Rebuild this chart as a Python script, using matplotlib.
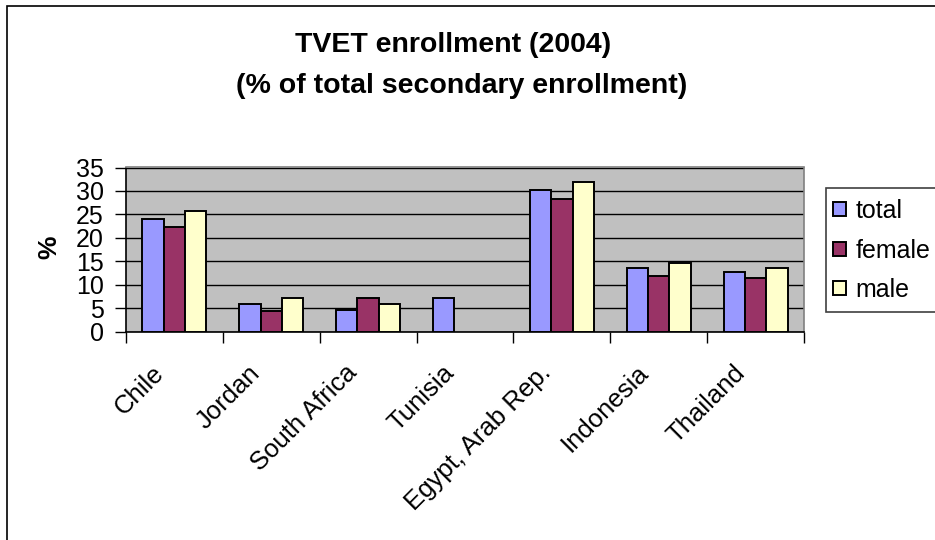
import numpy as np
import matplotlib
matplotlib.use("Agg")
import matplotlib.pyplot as plt
import matplotlib.transforms as mtransforms
from matplotlib.patches import Rectangle

plt.rcParams['font.family'] = ['Liberation Sans', 'DejaVu Sans']

countries = ['Chile', 'Jordan', 'South Africa', 'Tunisia',
             'Egypt, Arab Rep.', 'Indonesia', 'Thailand']
total = [24.0, 5.9, 4.6, 7.2, 30.3, 13.5, 12.6]
female = [22.3, 4.3, 7.2, np.nan, 28.2, 11.9, 11.4]
male = [25.7, 7.2, 5.9, np.nan, 32.0, 14.7, 13.5]
series_names = ['total', 'female', 'male']
series_colors = ['#9999FF', '#993366', '#FFFFCC']

W, H = 935, 540
fig = plt.figure(figsize=(W / 100, H / 100), dpi=100)

def px(x0, y0, x1, y1):
    # pixel box (top-left origin) -> figure fraction [l, b, w, h]
    return [x0 / W, 1 - y1 / H, (x1 - x0) / W, (y1 - y0) / H]

# outer chart border (runs off the right/bottom edge like the original)
fig.patches.append(Rectangle((7 / W, -0.05), 1.1, 1 - 6 / H + 0.05,
                             transform=fig.transFigure, fill=False,
                             edgecolor='black', linewidth=1.2))

ax = fig.add_axes(px(126, 167.5, 804, 331.5))
ax.set_facecolor('#C0C0C0')

x = np.arange(len(countries))
w = 0.22
for i, (vals, name, col) in enumerate(zip([total, female, male], series_names, series_colors)):
    ax.bar(x + (i - 1) * w, vals, w, color=col, edgecolor='black',
           linewidth=1.4, label=name, zorder=3)

ax.set_xlim(-0.5, len(countries) - 0.5)
ax.set_ylim(0, 35)
ax.set_yticks(np.arange(0, 36, 5))
ax.yaxis.grid(True, color='black', linewidth=1.0, zorder=1)
ax.set_axisbelow(True)

ax.set_xticks(x)
ax.set_xticklabels(countries, rotation=45, ha='right', rotation_mode='anchor')
ax.set_xticks(np.arange(-0.5, len(countries)), minor=True)
ax.tick_params(axis='x', which='major', length=0, pad=21, labelsize=18.5)
ax.tick_params(axis='x', which='minor', length=8, width=1, color='black')
ax.tick_params(axis='y', length=8, width=1, labelsize=18, pad=8)

# shift category labels left so their ends sit just left of the group centre
shift = mtransforms.ScaledTranslation(-23 / 100, 0, fig.dpi_scale_trans)
for lab in ax.get_xticklabels():
    lab.set_transform(lab.get_transform() + shift)

for side in ['top', 'right']:
    ax.spines[side].set_color('#808080')
    ax.spines[side].set_linewidth(1.2)
for side in ['left', 'bottom']:
    ax.spines[side].set_color('black')
    ax.spines[side].set_linewidth(1.2)

fig.text(49.5 / W, 1 - 247 / H, '%', rotation=90, fontsize=19, fontweight='bold',
         ha='center', va='center')

fig.text(453.5 / W, 1 - 45 / H, 'TVET enrollment (2004)', fontsize=20.5,
         fontweight='bold', ha='center', va='center')
fig.text(462 / W, 1 - 86 / H, '(% of total secondary enrollment)', fontsize=20.5,
         fontweight='bold', ha='center', va='center')

# legend box, also running off the right edge
fig.patches.append(Rectangle((826 / W, 1 - 311.5 / H), 0.2, 124 / H,
                             transform=fig.transFigure, facecolor='white',
                             edgecolor='#404040', linewidth=1.2))
handles, labels = ax.get_legend_handles_labels()
fig.legend(handles, labels, loc='upper left',
           bbox_to_anchor=(828 / W, 1 - 194 / H), frameon=False,
           fontsize=18, handlelength=0.5, handleheight=0.5,
           handletextpad=0.4, labelspacing=0.62, borderaxespad=0,
           borderpad=0.2)

fig.savefig('out.png', dpi=100)
